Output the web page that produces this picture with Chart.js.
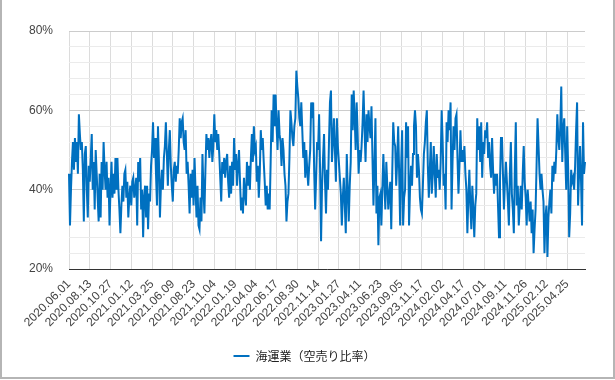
<!DOCTYPE html>
<html>
<head>
<meta charset="utf-8">
<script src="https://cdn.jsdelivr.net/npm/chart.js@4.4.1/dist/chart.umd.min.js"></script>
<style>
  body { margin: 0; background: #fff; }
  #wrap { position: relative; width: 615px; height: 380px; }
  #frame { position: absolute; left: 0; top: 0; width: 611px; height: 377px;
           border: 2px solid #b5b5b5; border-top: none; pointer-events: none; }
</style>
</head>
<body>
<div id="wrap">
  <canvas id="myChart" width="615" height="380"></canvas>
  <div id="frame"></div>
</div>
<script>
// x-axis labels, one every 21 points
const tickDates = [
    '2020.06.01', '2020.08.13', '2020.10.27', '2021.01.12', '2021.03.25',
    '2021.06.09', '2021.08.23', '2021.11.04', '2022.01.19', '2022.04.04',
    '2022.06.17', '2022.08.30', '2022.11.14', '2023.01.27', '2023.04.11',
    '2023.06.23', '2023.09.05', '2023.11.17', '2024.02.02', '2024.04.17',
    '2024.07.01', '2024.09.11', '2024.11.26', '2025.02.12', '2025.04.25'
];
const PER_TICK = 21;

// short-selling ratio (%)
const ratio2020 = [
    44,31,40,47,52,45,53,47,52,44,59,54,50,52,45,32,49,51,40,33,46,
    42,48,54,40,47,35,50,44,38,32,44,33,47,40,52,45,40,47,38,43,31,
    40,47,38,44,39,48,40,48,40,35,29,36,41,37,44,45,38,42,33,38,41
];
const ratio2021 = [
    36,42,43,38,40,43,31,47,42,48,35,40,28,38,41,33,41,30,39,37,46,
    50,57,48,53,44,36,56,47,33,41,45,40,48,51,57,49,41,50,55,46,41,
    37,45,47,42,46,44,50,58,53,57,58,52,50,55,44,47,41,34,44,38,45,
    36,48,40,33,41,31,30,38,32,49,40,34,45,54,50,53,48,52,54,47,51,
    59,52,55,50,54,49,43,37,47,44,48,43,47,49,42,38,46,39,47,41,53
];
const ratio2022 = [
    45,49,41,46,50,42,35,38,34,43,39,36,47,41,46,40,48,54,47,56,50,
    51,42,46,38,44,55,50,53,47,42,36,41,35,39,35,47,60,52,64,56,64,
    56,50,60,54,52,46,53,50,44,41,32,37,39,48,60,57,53,51,56,58,70,
    66,63,58,56,62,55,48,52,43,50,45,41,46,50,62,58,62,45,35,43,52,
    50,59,45,27,41,48,54,42,34,45,40,52,62,65,47,52,58,50,42,58,51
];
const ratio2023 = [
    47,43,39,31,38,43,36,29,49,40,32,41,47,64,55,65,58,50,62,54,44,
    50,47,51,57,65,55,47,59,52,60,56,53,61,48,36,46,58,34,41,26,38,
    39,31,40,49,42,35,47,41,35,39,42,30,44,57,52,51,41,47,56,44,31,
    46,55,31,38,40,57,48,56,31,40,46,41,49,56,60,56,43,49,45,38,35,34,
    41,49,52,57,60,46,38,45,52,39,44,51,44,38,49,43,45,40,47,60,52
];
const ratio2024 = [
    41,44,35,57,52,60,55,62,35,47,56,50,58,59,48,39,46,55,47,50,47,
    51,44,40,29,38,45,36,30,41,35,28,36,39,58,50,56,47,57,43,52,49,55,
    53,57,48,52,46,43,53,45,39,44,41,44,36,28,42,53,53,44,35,42,47,
    42,37,31,44,52,39,35,29,45,57,36,41,31,36,41,35,44,51,42,38,31,
    40,36,32,37,29,35,24,30,35,46,58,51,44,40,44,40,37,24,33,36,23,33
];
const ratio2025 = [
    37,40,34,46,42,47,44,50,59,53,50,56,66,47,55,58,49,40,56,45,28,
    34,45,42,43,40,46,55,62,36,44,51,42,31,57,44,47
];

const ratio = [].concat(ratio2020, ratio2021, ratio2022, ratio2023, ratio2024, ratio2025);
const labels = ratio.map((v, i) => (i % PER_TICK === 0 && tickDates[i / PER_TICK]) ? tickDates[i / PER_TICK] : '');

Chart.defaults.font.family = '"Liberation Sans", Arial, sans-serif';
Chart.defaults.font.size = 12;
Chart.defaults.color = '#444';

const ctx = document.getElementById('myChart').getContext('2d');
new Chart(ctx, {
    type: 'line',
    data: {
        labels: labels,
        datasets: [{
            label: '海運業（空売り比率）',
            data: ratio,
            borderColor: '#0070c0',
            backgroundColor: '#0070c0',
            borderWidth: 2,
            pointRadius: 0,
            tension: 0,
            fill: false
        }]
    },
    options: {
        responsive: false,
        animation: false,
        layout: { padding: { top: 31, right: 6, bottom: 8, left: 0 } },
        plugins: {
            legend: {
                position: 'bottom',
                labels: {
                    usePointStyle: true,
                    pointStyle: 'line',
                    pointStyleWidth: 16,
                    boxHeight: 12,
                    padding: 10,
                    color: '#222',
                    font: { family: '"Noto Sans CJK JP", sans-serif', size: 12 }
                }
            },
            tooltip: { enabled: false }
        },
        scales: {
            x: {
                grid: {
                    color: c => (c.index % PER_TICK === 0 && c.index <= 504) ? '#dcdcdc' : 'rgba(0,0,0,0)',
                    drawTicks: false
                },
                border: { display: true, color: '#333', width: 1 },
                ticks: {
                    autoSkip: false,
                    minRotation: 45,
                    maxRotation: 45,
                    padding: 8,
                    callback: function(v) { return this.getLabelForValue(v); }
                },
                afterFit: s => { s.height = 71; }
            },
            y: {
                min: 20,
                max: 80,
                grid: {
                    color: c => (c.tick.value % 20 === 0) ? '#cccccc' : '#ebebeb',
                    drawTicks: false
                },
                border: { display: false },
                ticks: {
                    autoSkip: false,
                    stepSize: 4,
                    padding: 16,
                    callback: v => (v % 20 === 0) ? v + '%' : ''
                },
                afterFit: s => { s.width = 69; }
            },
            // empty right-hand spacer so the plot ends at the same place
            spacer: {
                position: 'right',
                grid: { display: false },
                border: { display: false },
                ticks: { display: false },
                afterFit: s => { s.width = 24; }
            }
        }
    }
});
</script>
</body>
</html>
